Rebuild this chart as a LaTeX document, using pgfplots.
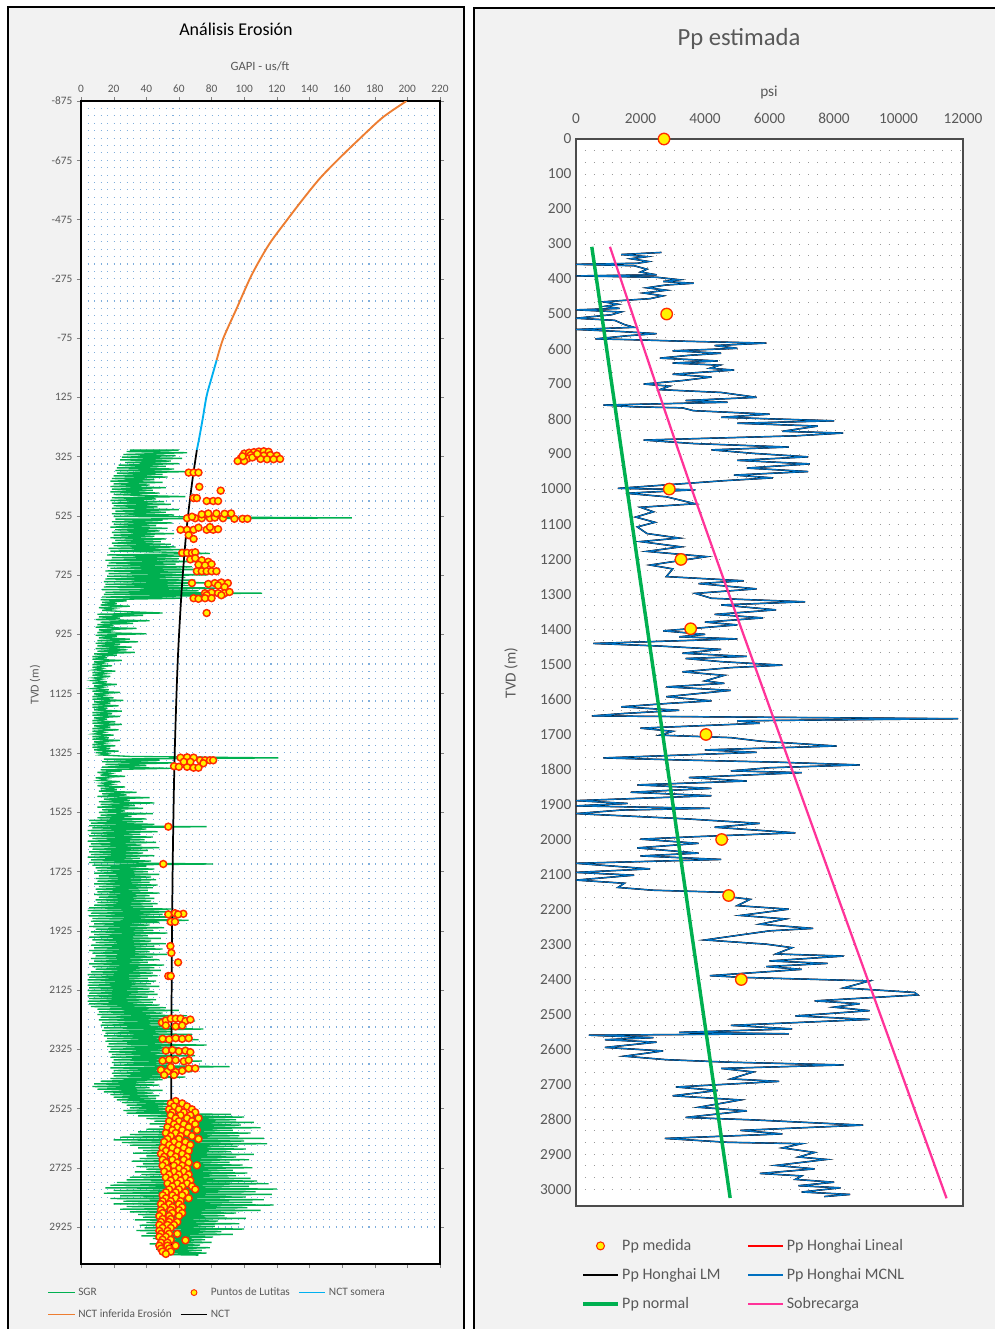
\documentclass[border=0pt]{standalone}
\usepackage{fontspec}
\setmainfont{Carlito}
\usepackage{pgfplots}
\pgfplotsset{compat=1.18}
\usepackage{pgfplotstable}
\definecolor{sgr}{HTML}{00B050}
\definecolor{nctor}{HTML}{ED7D31}
\definecolor{nctbl}{HTML}{00B0F0}
\definecolor{ppblue}{HTML}{0070C0}
\definecolor{ppink}{HTML}{FF3399}
\definecolor{txt}{HTML}{595959}
\definecolor{gridblue}{HTML}{7FAEDC}
\definecolor{mkred}{HTML}{FF2A00}

% SGR log (GAPI vs TVD)
\pgfplotstableread{
x d
30 303
60 303
28 308
65 312
26 318
58 322
25 327
62 331
24 336
55 340
27 345
60 349
23 354
52 358
22 363
57 367
21 372
64 376
22 381
50 385
20 390
53 394
19 399
45 403
18 408
50 412
20 417
42 421
18 426
52 430
19 435
44 439
18 444
48 448
20 453
41 457
64 460
19 464
46 468
18 473
51 477
19 482
55 486
20 491
47 495
19 500
60 504
21 509
52 513
19 518
57 522
20 527
166 532
21 536
50 540
19 545
56 549
20 554
46 558
18 563
53 567
21 572
48 576
19 581
57 585
20 590
45 594
18 599
52 603
21 608
49 612
19 617
55 621
20 626
58 630
17 635
63 639
18 644
56 648
79 652
16 657
66 661
19 666
60 670
15 675
74 679
17 684
58 688
16 693
68 697
18 702
76 706
15 711
62 715
17 720
78 724
16 729
64 733
15 738
70 742
14 747
80 751
15 756
66 760
14 765
90 769
13 774
72 778
15 783
111 786
14 790
84 794
13 799
62 803
12 808
28 812
13 817
22 821
12 826
30 830
11 835
20 839
13 844
26 848
50 853
10 857
38 861
11 866
24 870
9 875
42 879
12 884
32 888
10 892
20 896
9 901
34 905
11 910
18 914
10 919
40 923
9 928
22 932
11 937
30 941
10 946
35 950
9 955
24 959
10 964
31 968
9 973
28 977
10 982
33 986
8 991
22 995
7 1000
16 1004
7 1009
25 1013
8 1018
14 1022
7 1027
19 1031
7 1036
13 1040
8 1045
21 1049
7 1054
15 1058
7 1063
18 1067
8 1072
13 1076
7 1081
16 1085
7 1090
22 1094
8 1099
14 1103
7 1108
17 1112
7 1117
24 1121
8 1126
15 1130
7 1135
20 1139
7 1144
26 1148
8 1153
18 1157
7 1162
23 1166
7 1171
16 1175
8 1180
25 1184
7 1189
19 1193
7 1198
24 1202
8 1207
16 1211
7 1216
21 1220
7 1225
25 1229
8 1234
18 1238
7 1243
23 1247
7 1252
14 1256
8 1261
20 1265
7 1270
17 1274
7 1279
24 1283
8 1288
15 1292
7 1297
21 1301
7 1306
18 1310
8 1315
23 1319
9 1324
16 1328
12 1332
30 1337
121 1342
14 1346
48 1350
13 1355
57 1359
15 1364
40 1368
13 1373
55 1377
12 1382
25 1386
10 1391
18 1395
12 1400
27 1404
9 1409
16 1413
11 1418
24 1422
13 1427
19 1431
10 1436
27 1440
12 1445
22 1449
11 1454
34 1458
13 1463
28 1467
10 1472
42 1476
14 1481
30 1485
11 1490
45 1494
12 1499
33 1503
10 1508
38 1512
13 1517
27 1521
11 1526
44 1530
12 1535
31 1539
10 1544
40 1548
5 1553
38 1557
6 1562
45 1566
5 1571
77 1574
7 1578
40 1582
4 1587
47 1591
6 1596
36 1600
5 1605
44 1609
7 1614
39 1618
4 1623
46 1627
6 1632
37 1636
5 1641
48 1645
7 1650
41 1654
5 1659
38 1663
6 1668
45 1672
4 1677
36 1681
6 1686
43 1690
5 1695
81 1700
7 1704
40 1708
9 1713
45 1717
10 1722
41 1726
8 1731
48 1735
11 1740
43 1744
9 1749
46 1753
10 1758
42 1762
8 1767
47 1771
11 1776
44 1780
9 1785
41 1789
10 1794
48 1798
8 1803
42 1807
11 1812
45 1816
9 1821
43 1825
10 1830
47 1834
8 1839
44 1843
5 1848
55 1852
4 1857
62 1861
6 1866
50 1870
5 1875
58 1879
7 1884
66 1890
6 1893
48 1897
8 1902
42 1906
5 1911
51 1915
9 1920
44 1924
6 1929
53 1933
8 1938
41 1942
5 1947
49 1951
7 1956
43 1960
9 1965
52 1969
6 1974
45 1978
8 1983
50 1987
5 1992
42 1996
7 2001
53 2005
9 2010
44 2014
6 2019
48 2023
8 2028
41 2032
5 2037
51 2041
7 2046
45 2050
9 2055
49 2059
6 2064
44 2068
4 2073
47 2077
5 2082
41 2086
4 2091
46 2095
5 2100
43 2104
4 2109
48 2113
5 2118
42 2122
4 2127
45 2131
5 2136
47 2140
4 2145
41 2149
5 2154
46 2158
4 2163
44 2167
5 2172
48 2176
6 2181
52 2185
10 2190
60 2194
11 2199
50 2203
10 2208
65 2212
12 2217
55 2221
11 2226
70 2230
13 2235
52 2239
12 2244
62 2248
14 2253
75 2257
13 2262
56 2266
15 2271
68 2275
14 2280
58 2284
16 2289
72 2293
15 2298
55 2302
17 2307
77 2311
16 2316
60 2320
18 2325
66 2329
17 2334
52 2338
19 2343
70 2347
18 2352
58 2356
20 2361
74 2365
19 2370
55 2374
20 2379
91 2384
18 2388
60 2392
20 2397
68 2401
19 2406
54 2410
20 2415
64 2419
18 2424
50 2428
12 2433
45 2437
8 2442
48 2446
7 2451
42 2455
10 2460
50 2464
14 2469
44 2473
18 2478
48 2482
20 2487
46 2491
22 2496
57 2500
25 2505
61 2509
28 2514
55 2518
30 2523
60 2527
26 2532
58 2536
28 2541
92 2545
35 2550
100 2554
40 2559
95 2563
45 2568
106 2572
42 2577
98 2581
48 2586
110 2590
40 2595
93 2599
35 2604
104 2608
30 2613
97 2617
24 2622
112 2626
20 2631
100 2635
25 2640
114 2644
30 2649
96 2653
35 2658
101 2662
38 2667
92 2671
32 2676
106 2680
40 2685
95 2689
36 2694
103 2698
31 2703
91 2707
38 2712
99 2716
34 2721
105 2725
40 2730
93 2734
33 2739
102 2743
37 2748
95 2752
30 2757
104 2761
28 2766
108 2770
22 2775
115 2779
18 2784
103 2788
15 2793
120 2797
20 2802
107 2806
14 2811
117 2815
24 2820
101 2824
18 2829
112 2833
26 2838
105 2842
20 2847
118 2851
28 2856
102 2860
24 2865
110 2869
30 2874
95 2878
35 2883
88 2887
38 2892
101 2896
33 2901
84 2905
40 2910
97 2914
36 2919
82 2923
39 2928
100 2932
34 2937
86 2941
40 2946
93 2950
37 2955
81 2959
44 2964
76 2968
48 2973
80 2977
42 2982
73 2986
50 2991
79 2995
46 3000
74 3004
48 3009
77 3013
50 3018
72 3020
}\sgrtab

% Shale points
\pgfplotstableread{
x d
100 315
103 312
106 310
109 308
112 307
115 309
104 320
108 322
112 322
116 320
120 322
98 330
102 332
110 333
114 334
118 334
122 333
96 340
100 340
105 328
108 316
99 324
66 379
69 379
72 379
72.5 427
85.6 440
69 465
71 465
77 475
81 475
84 475
65 533
70 533
74 533
79 533
82 531
87 533
94 535
99 535
102 535
74 520
78 517
83 517
88 518
92 517
68 528
61 572
65 572
69 572
77 572
81 572
84 570
72 565
79 563
66 590
69 603
62 650
65 650
68 650
70 648
67 672
70 668
74 675
78 680
80 688
72 690
76 692
71 712
74 712
77 712
80 712
83 712
68 752
78 755
82 752
86 750
90 752
84 760
88 765
76 786
80 784
84 786
88 786
91 782
77 793
86 793
69 803
72 805
76 803
80 803
77 853
61 1341
65 1340
69 1341
73 1350
76 1350
79 1350
81 1350
57 1370
60 1372
65 1372
69 1375
72 1375
63 1355
67 1355
75 1360
53.5 1574
50.4 1700
53.5 1870
57.6 1866
62.7 1868
55 1895
57.6 1895
59.5 1870
54.8 1977
55.4 2000
59.5 2032
53.5 2078
55 2078
49.6 2235
52 2228
55 2222
58 2222
61 2222
64 2230
67 2225
52 2245
58 2248
62 2245
50 2290
54 2292
58 2288
62 2290
66 2288
52 2330
56 2328
60 2332
64 2330
67 2335
50 2364
54 2360
58 2362
63 2366
66 2362
49 2395
53 2400
58 2402
62 2398
66 2390
70 2390
55 2385
51 2412
57 2412
58 2500
55 2508
62 2508
57 2518
65 2518
54 2528
60 2528
68 2528
56 2538
63 2538
70 2538
55 2548
61 2548
67 2548
58 2558
65 2558
72 2558
54 2568
60 2568
68 2568
57 2578
63 2578
70 2578
53 2588
59 2588
66 2588
56 2598
62 2598
71 2598
52 2608
58 2608
65 2608
55 2618
61 2618
68 2618
53 2628
60 2628
72 2628
51 2638
57 2638
64 2638
54 2648
60 2648
67 2648
50 2658
56 2658
63 2658
52 2668
59 2668
66 2668
49 2678
55 2678
62 2678
51 2688
58 2688
65 2688
50 2698
56 2698
63 2698
52 2708
59 2708
66 2708
71 2717
50 2718
57 2718
62 2718
53 2728
60 2728
65 2728
51 2738
57 2738
63 2738
54 2748
60 2748
66 2748
52 2758
58 2758
64 2758
55 2768
61 2768
67 2768
53 2778
59 2778
65 2778
56 2788
62 2788
68 2788
54 2798
60 2798
70 2798
52 2808
58 2808
64 2808
50 2818
56 2818
62 2818
52 2828
58 2828
66 2828
50 2838
55 2838
61 2838
49 2848
54 2848
60 2848
51 2858
56 2858
62 2858
49 2868
55 2868
60 2868
50 2878
56 2878
62 2878
48 2888
54 2888
60 2888
50 2898
55 2898
49 2908
54 2908
59 2908
48 2918
53 2918
57 2918
50 2928
55 2928
48 2938
53 2938
49 2948
54 2948
59 2948
48 2958
52 2958
50 2968
55 2968
64 2970
49 2978
53 2978
48 2988
53 2988
58 2988
49 2998
54 2998
50 3008
55 3008
52 3016
}\lutab

% NCT curves
\pgfplotstableread{
x d
199.5 -875
185 -820
171 -749
158 -680
146.4 -614
135.5 -540
125.5 -468
115 -389
104.6 -288
95.4 -175
87.2 -74
83.1 0
}\nctortab
\pgfplotstableread{
x d
83.1 0
80 60
77 120
74.5 200
72.2 270
71 303
}\nctbltab
\pgfplotstableread{
x d
71 303
68.4 400
66.1 500
64.2 600
62.7 700
61.4 800
59.4 1000
58.1 1200
57.1 1400
56.2 1700
55.7 2000
55.3 2400
55.1 3000
}\ncttab

% Pore pressure (psi vs TVD)
\pgfplotstableread{
p d
2650 324
1400 330
2200 336
1700 342
2250 350
1900 355
0 358
1800 362
2200 372
2000 380
2500 388
0 391
2500 395
3200 402
2700 407
3650 412
2800 417
2200 425
2800 432
2100 440
2700 448
2300 456
850 465
1300 472
900 478
1350 484
0 488
1400 494
1100 502
0 512
1200 518
1500 530
1800 538
0 544
1400 550
2500 556
1600 562
600 571
1600 573
3500 578
5900 583
4300 590
5000 598
3000 605
4500 612
3500 618
2600 626
4400 634
3000 640
4460 646
4150 655
4900 660
3000 672
4200 680
3300 690
2100 700
2900 706
2600 716
4500 724
5600 738
3400 747
4700 752
850 760
1800 765
3300 768
3640 776
6000 786
4500 795
8000 805
5000 812
7500 820
6400 835
8280 840
6800 848
2100 860
3650 870
6600 880
4200 888
5500 898
7200 908
5000 918
7250 928
5300 940
7200 950
4900 960
6100 968
4600 976
1300 998
3700 1002
1550 1012
2800 1022
3700 1042
2000 1052
2400 1065
1850 1080
2450 1095
1900 1108
2200 1127
3200 1140
2000 1150
3250 1165
2200 1178
4050 1193
2300 1217
3000 1228
2800 1250
5200 1262
3800 1270
5600 1285
3700 1298
4200 1312
7100 1322
4500 1331
6200 1345
4300 1358
5800 1368
4000 1380
5000 1388
2700 1405
4000 1415
3200 1422
5000 1428
540 1441
2500 1448
4500 1458
3300 1469
5300 1478
3400 1484
4500 1493
6400 1503
4800 1510
3300 1522
4600 1532
4000 1548
4600 1555
2800 1565
4800 1575
2800 1593
4200 1605
2900 1612
1400 1622
3200 1632
1500 1641
490 1648
11850 1656
5000 1662
5700 1669
2000 1683
3000 1692
2600 1703
4800 1710
5700 1720
8080 1734
4000 1745
5600 1752
850 1768
3300 1774
6200 1780
8800 1788
6000 1796
4800 1805
7000 1810
3500 1824
5300 1834
1900 1845
4200 1855
1700 1866
4200 1876
0 1890
1600 1898
0 1905
4150 1912
1400 1917
0 1927
3400 1942
5700 1955
4300 1966
6800 1982
3700 1993
2000 2000
3800 2012
1900 2025
3800 2040
2000 2048
4500 2058
0 2069
2300 2085
0 2095
1800 2103
0 2117
1500 2126
1300 2138
2400 2146
4700 2152
4600 2163
5400 2172
5000 2190
6600 2200
5100 2218
6500 2228
5700 2243
7350 2255
6000 2262
4000 2288
5900 2300
6700 2310
6200 2328
8300 2334
6000 2348
7800 2355
5900 2364
7000 2372
4150 2390
5200 2395
9100 2405
8300 2425
10500 2438
10600 2445
7400 2462
8800 2470
8000 2480
9100 2490
6800 2505
9100 2515
4800 2532
6700 2542
3200 2552
6600 2556
400 2560
2400 2567
900 2573
2500 2580
900 2595
2700 2605
1500 2620
2800 2630
4700 2637
8300 2645
4500 2655
5500 2665
4800 2685
6300 2692
3100 2708
4400 2718
3000 2733
5100 2745
3800 2766
5300 2776
3400 2795
5500 2802
8900 2817
5100 2832
6400 2842
2760 2855
4700 2866
7000 2870
6400 2882
7400 2895
6900 2908
7770 2915
6200 2932
7400 2942
5700 2955
7000 2962
6800 2972
8000 2980
6900 2990
8200 2996
7000 3008
8500 3015
7700 3021
}\pptab

\pgfplotstableread{
p d
2728 0
2811 500
2893 1000
3255 1201
3555 1399
4030 1701
4516 2001
4733 2161
5125 2401
}\medtab

\pgfplotstableread{
p d
490 308
4780 3025
}\normtab

\pgfplotstableread{
p d
1054 308
3600 1003
7150 1917
11490 3026
}\sobtab

\begin{document}
\begin{tikzpicture}
\path[use as bounding box] (0,0) rectangle (746.25pt,996.75pt);
\fill[black!5] (6pt,0) rectangle (348pt,991.5pt);
\fill[black!5] (355.5pt,0) rectangle (746.25pt,990.75pt);
\draw[line width=1.5pt] (6pt,-3pt) -- (6pt,991.5pt) -- (348pt,991.5pt) -- (348pt,-3pt);
\draw[line width=1.2pt] (355.5pt,-3pt) -- (355.5pt,990.75pt) -- (750pt,990.75pt);

\node[font=\fontsize{13.5}{15}\selectfont] at (177pt,975pt) {Análisis Erosión};
\node[font=\fontsize{9.5}{11}\selectfont, text=txt] at (195pt,947.25pt) {GAPI - us/ft};
\node[font=\fontsize{9}{11}\selectfont, text=txt, rotate=90] at (26.25pt,483pt) {TVD (m)};

\node[font=\fontsize{18.5}{21}\selectfont, text=txt] at (554.25pt,967.5pt) {Pp estimada};
\node[font=\fontsize{11.5}{13}\selectfont, text=txt] at (576.75pt,927.75pt) {psi};
\node[font=\fontsize{11.5}{13}\selectfont, text=txt, rotate=90] at (383.25pt,492pt) {TVD (m)};

\begin{axis}[
  at={(60.75pt,48.75pt)}, anchor=south west,
  scale only axis, width=269.25pt, height=872.25pt,
  xmin=0, xmax=220, ymin=-875, ymax=3050, y dir=reverse,
  axis background/.style={fill=white},
  xtick={0,20,...,220}, ytick={-875,-675,...,2925},
  minor y tick num=7, ymajorgrids, yminorgrids,
  major grid style={gridblue, line width=0.8pt, dash pattern=on 0.8pt off 4.1pt},
  minor grid style={gridblue, line width=0.8pt, dash pattern=on 0.8pt off 4.1pt},
  xticklabel pos=upper,
  tick align=outside, major tick length=3pt, minor tick length=0pt,
  tick style={black!50},
  axis line style={black, line width=1pt},
  ticklabel style={font=\fontsize{8.5}{10}\selectfont, text=txt},
  /pgf/number format/assume math mode=true,
  /pgf/number format/set thousands separator={},
  scaled ticks=false,
  legend image code/.code={\draw[mark repeat=2,mark phase=2,#1] plot coordinates {(0pt,0pt)(10pt,0pt)(20pt,0pt)};},
  legend style={at={(-0.106,-0.0155)}, anchor=north west, draw=none, fill=none,
    font=\fontsize{8.5}{10}\selectfont, text=txt, row sep=5pt,
    /tikz/every even column/.append style={column sep=4pt}},
  legend columns=3, legend cell align=left,
]
\addplot[sgr, line width=1pt, forget plot] table[x=x, y=d] {\sgrtab};
\addplot[nctor, line width=1.4pt, forget plot, smooth] table[x=x, y=d] {\nctortab};
\addplot[nctbl, line width=1.4pt, forget plot, smooth] table[x=x, y=d] {\nctbltab};
\addplot[black, line width=1.3pt, forget plot, smooth] table[x=x, y=d] {\ncttab};
\addplot[only marks, mark=*, mark size=2.6pt, mark options={fill=yellow, draw=mkred, line width=1.1pt}, forget plot] table[x=x, y=d] {\lutab};

\addlegendimage{sgr, line width=0.6pt}
\addlegendentry{SGR}
\addlegendimage{only marks, mark=*, mark size=2.2pt, mark options={fill=yellow, draw=mkred, line width=0.7pt}}
\addlegendentry{Puntos de Lutitas}
\addlegendimage{nctbl, line width=1.3pt}
\addlegendentry{NCT somera}
\addlegendimage{nctor, line width=1.3pt}
\addlegendentry{NCT inferida Erosión}
\addlegendimage{black, line width=1.3pt}
\addlegendentry{NCT}
\end{axis}

\begin{axis}[
  at={(432pt,92.25pt)}, anchor=south west,
  scale only axis, width=290.25pt, height=800.25pt,
  xmin=0, xmax=12000, ymin=0, ymax=3048, y dir=reverse,
  axis background/.style={fill=white},
  clip=false,
  xtick={0,2000,...,12000}, ytick={0,100,...,3000},
  minor y tick num=2, ymajorgrids, yminorgrids,
  major grid style={black!40, line width=0.7pt, dash pattern=on 0.7pt off 6pt},
  minor grid style={black!40, line width=0.7pt, dash pattern=on 0.7pt off 6pt},
  xticklabel pos=upper,
  xticklabel style={yshift=8pt},
  major tick length=0pt, minor tick length=0pt,
  axis line style={black!70, line width=0.9pt},
  ticklabel style={font=\fontsize{11.5}{13}\selectfont, text=txt},
  /pgf/number format/assume math mode=true,
  /pgf/number format/set thousands separator={},
  scaled ticks=false,
  legend image code/.code={\draw[mark repeat=2,mark phase=2,#1] plot coordinates {(0pt,0pt)(13pt,0pt)(26pt,0pt)};},
  legend style={at={(0.003,-0.026)}, anchor=north west, draw=none, fill=none,
    font=\fontsize{12}{14}\selectfont, text=txt, row sep=8pt,
    /tikz/every even column/.append style={column sep=18pt}},
  legend columns=2, legend cell align=left,
]
\addplot[red, line width=0.6pt, forget plot] table[x=p, y=d] {\pptab};
\addplot[black, line width=1.1pt, forget plot] table[x=p, y=d] {\pptab};
\addplot[ppblue, line width=0.85pt, forget plot] table[x=p, y=d] {\pptab};
\addplot[sgr, line width=2.6pt, forget plot] table[x=p, y=d] {\normtab};
\addplot[ppink, line width=1.7pt, forget plot, smooth] table[x=p, y=d] {\sobtab};
\addplot[only marks, mark=*, mark size=4.3pt, mark options={fill=yellow, draw=mkred, line width=1pt}, forget plot] table[x=p, y=d] {\medtab};

\addlegendimage{only marks, mark=*, mark size=3pt, mark options={fill=yellow, draw=mkred, line width=0.8pt}}
\addlegendentry{Pp medida}
\addlegendimage{red, line width=1pt}
\addlegendentry{Pp Honghai Lineal}
\addlegendimage{black, line width=0.8pt}
\addlegendentry{Pp Honghai LM}
\addlegendimage{ppblue, line width=0.8pt}
\addlegendentry{Pp Honghai MCNL}
\addlegendimage{sgr, line width=2.6pt}
\addlegendentry{Pp normal}
\addlegendimage{ppink, line width=1.7pt}
\addlegendentry{Sobrecarga}
\end{axis}
\end{tikzpicture}
\end{document}
